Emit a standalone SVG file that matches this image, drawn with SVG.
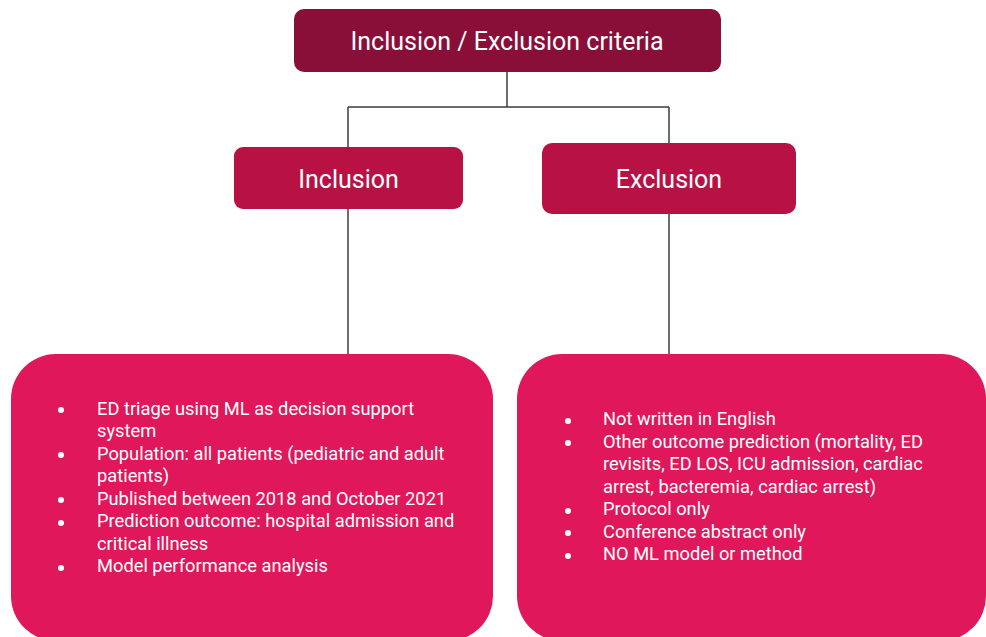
<svg xmlns="http://www.w3.org/2000/svg" width="986" height="637" viewBox="0 0 986 637">
<style>
  .t { font-family: Roboto, "Liberation Sans", Arial, sans-serif; fill: #FFFFFF; }
  .h { font-size: 25px; text-anchor: middle; }
  .b { font-size: 18.3px; }
  .conn { fill: none; stroke: #3d3d3d; stroke-width: 1.5; }
  .dot { fill: #FFFFFF; }
</style>
<rect x="0" y="0" width="986" height="637" fill="#FFFFFF"/>
<g id="connectors">
  <path class="conn" d="M507 72 V107 M348 107 H669 M348 107 V147 M669 107 V143"/>
  <path class="conn" d="M348 209 V354"/>
  <path class="conn" d="M669 214 V354"/>
</g>
<g id="root">
  <rect x="294" y="9" width="427" height="63" rx="10" fill="#8A0F38"/>
  <text class="t h" x="507" y="50">Inclusion / Exclusion criteria</text>
</g>
<g id="inclusion">
  <rect x="234" y="147" width="229" height="62" rx="9" fill="#B81244"/>
  <text class="t h" x="348.5" y="188">Inclusion</text>
</g>
<g id="exclusion">
  <rect x="542" y="143" width="254" height="71" rx="10" fill="#B81244"/>
  <text class="t h" x="669" y="188">Exclusion</text>
</g>
<g id="inclusion-criteria">
  <rect x="11" y="354" width="482" height="287" rx="45" fill="#E0175A"/>
  <circle class="dot" cx="61" cy="410" r="3"/>
  <circle class="dot" cx="61" cy="455" r="3"/>
  <circle class="dot" cx="61" cy="500" r="3"/>
  <circle class="dot" cx="61" cy="523" r="3"/>
  <circle class="dot" cx="61" cy="568" r="3"/>
  <text class="t b" x="97" y="415">ED triage using ML as decision support</text>
  <text class="t b" x="97" y="437">system</text>
  <text class="t b" x="97" y="460">Population: all patients (pediatric and adult</text>
  <text class="t b" x="97" y="482">patients)</text>
  <text class="t b" x="97" y="505">Published between 2018 and October 2021</text>
  <text class="t b" x="97" y="527">Prediction outcome: hospital admission and</text>
  <text class="t b" x="97" y="550">critical illness</text>
  <text class="t b" x="97" y="572">Model performance analysis</text>
</g>
<g id="exclusion-criteria">
  <rect x="517" y="354" width="469" height="287" rx="45" fill="#E0175A"/>
  <circle class="dot" cx="568" cy="421" r="3"/>
  <circle class="dot" cx="568" cy="443" r="3"/>
  <circle class="dot" cx="568" cy="511" r="3"/>
  <circle class="dot" cx="568" cy="533" r="3"/>
  <circle class="dot" cx="568" cy="556" r="3"/>
  <text class="t b" x="603" y="425">Not written in English</text>
  <text class="t b" x="603" y="448">Other outcome prediction (mortality, ED</text>
  <text class="t b" x="603" y="470">revisits, ED LOS, ICU admission, cardiac</text>
  <text class="t b" x="603" y="493">arrest, bacteremia, cardiac arrest)</text>
  <text class="t b" x="603" y="515">Protocol only</text>
  <text class="t b" x="603" y="538">Conference abstract only</text>
  <text class="t b" x="603" y="560">NO ML model or method</text>
</g>
</svg>
